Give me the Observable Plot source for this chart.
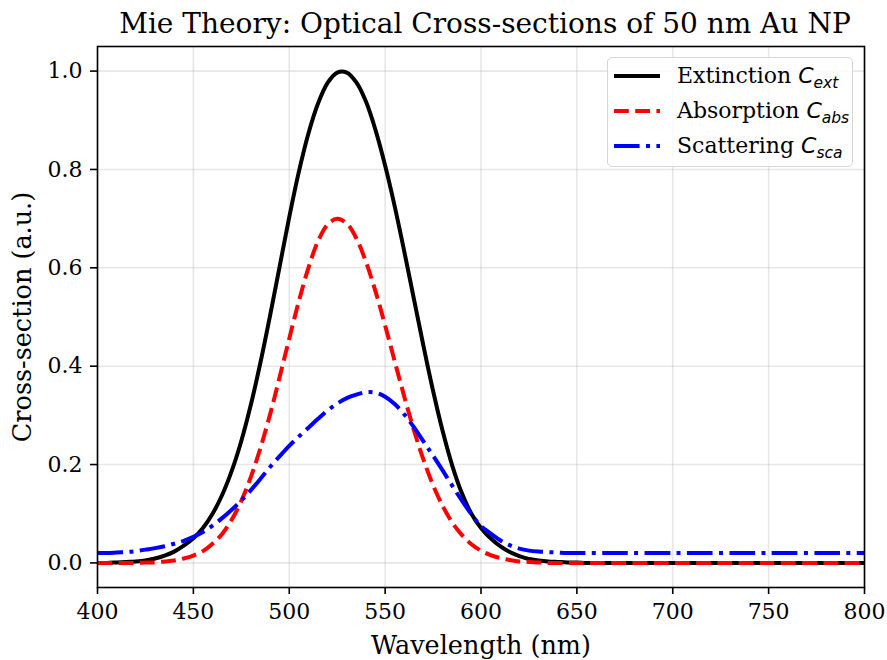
<!DOCTYPE html>
<html>
<head>
<meta charset="utf-8">
<script src="https://cdn.jsdelivr.net/npm/d3@7"></script>
<script src="https://cdn.jsdelivr.net/npm/@observablehq/plot@0.6"></script>
<style>
  html, body { margin: 0; padding: 0; background: #fff; }
  #wrap { position: relative; width: 887px; height: 660px; overflow: hidden; }
  .legend { position: absolute; left: 607px; top: 57px; width: 244px; height: 108px;
    border: 1.5px solid #d6d6d6; border-radius: 5px; background: rgba(255,255,255,0.8);
    font-family: "DejaVu Serif"; font-size: 22px; color: #000; }
  .row { position: absolute; left: 0; height: 30px; width: 100%; }
  .row svg { position: absolute; left: 6px; top: 0; }
  .row .lbl { position: absolute; left: 69px; top: 0; line-height: 30px; white-space: nowrap; }
  .m { font-family: "DejaVu Sans"; font-style: italic; }
  .m sub { font-size: 15.5px; vertical-align: -5px; line-height: 0; }
</style>
</head>
<body>
<div id="wrap"></div>
<script>
// ---- data ----
const wavelength = [400,405,410,415,420,425,430,435,440,445,450,455,460,465,470,475,480,485,490,495,
  500,505,510,515,520,525,530,535,540,545,550,555,560,565,570,575,580,585,590,595,
  600,605,610,615,620,625,630,635,640,645,650,655,660,700,750,800];
const extinction = [0.000,0.000,0.001,0.002,0.003,0.005,0.009,0.015,0.023,0.035,0.050,0.071,0.100,0.138,0.187,0.248,0.322,0.408,0.503,0.603,
  0.703,0.795,0.873,0.934,0.976,0.997,0.997,0.977,0.938,0.880,0.808,0.725,0.633,0.537,0.441,0.350,0.268,0.198,0.142,0.100,
  0.071,0.050,0.034,0.022,0.014,0.008,0.005,0.003,0.002,0.001,0.001,0.000,0.000,0.000,0.000,0.000];
const absorption = [0.000,0.000,0.000,0.000,0.000,0.001,0.001,0.003,0.005,0.009,0.015,0.024,0.039,0.059,0.088,0.126,0.175,0.234,0.302,0.378,
  0.456,0.532,0.600,0.654,0.688,0.700,0.690,0.660,0.612,0.552,0.483,0.410,0.338,0.270,0.210,0.158,0.116,0.082,0.057,0.038,
  0.025,0.016,0.010,0.006,0.003,0.002,0.001,0.000,0.000,0.000,0.000,0.000,0.000,0.000,0.000,0.000];
const scattering = [0.020,0.020,0.021,0.022,0.024,0.027,0.030,0.034,0.039,0.045,0.053,0.063,0.076,0.091,0.108,0.127,0.148,0.171,0.195,0.217,
  0.238,0.257,0.275,0.293,0.310,0.324,0.335,0.342,0.347,0.346,0.338,0.323,0.302,0.276,0.247,0.218,0.188,0.157,0.127,0.099,
  0.075,0.060,0.046,0.036,0.029,0.025,0.023,0.022,0.021,0.020,0.020,0.020,0.020,0.020,0.020,0.020];
const xTicks = [400,450,500,550,600,650,700,750,800];
const yTicks = [0.0,0.2,0.4,0.6,0.8,1.0];
const titleText = "Mie Theory: Optical Cross-sections of 50 nm Au NP";
const xLabel = "Wavelength (nm)";
const yLabel = "Cross-section (a.u.)";
const seriesNames = ["Extinction", "Absorption", "Scattering"];
const seriesSubs = ["ext", "abs", "sca"];
const seriesColors = ["black", "red", "blue"];
const seriesDash = [null, "14.8,6.4", "25.6,6.4,4,6.4"];
const seriesValues = [extinction, absorption, scattering];

const LW = 4;
const lineMarks = seriesValues.map((vals, k) =>
  Plot.line(wavelength, {
    x: d => d, y: (d, i) => vals[i],
    stroke: seriesColors[k], strokeWidth: LW,
    strokeDasharray: seriesDash[k] || undefined,
    strokeLinecap: "butt", strokeLinejoin: "round",
    curve: "catmull-rom"
  })
);

const chart = Plot.plot({
  width: 887, height: 660,
  marginLeft: 97, marginRight: 23, marginTop: 46, marginBottom: 73,
  style: { fontFamily: "DejaVu Serif", fontSize: "22px", color: "black", background: "white", overflow: "visible" },
  x: { domain: [400, 800], label: null },
  y: { domain: [-0.05, 1.05], label: null },
  marks: [
    Plot.gridX(xTicks, { stroke: "#b0b0b0", strokeOpacity: 0.3, strokeWidth: 1.6 }),
    Plot.gridY(yTicks, { stroke: "#b0b0b0", strokeOpacity: 0.3, strokeWidth: 1.6 }),
    ...lineMarks,
    Plot.frame({ stroke: "black", strokeWidth: 1.6 }),
    Plot.axisX(xTicks, { tickSize: 7, tickPadding: 9, fontSize: 22, strokeWidth: 1.6, label: null, tickFormat: d => String(d) }),
    Plot.axisY(yTicks, { tickSize: 7, tickPadding: 8, fontSize: 22, strokeWidth: 1.6, label: null, tickFormat: d3.format(".1f") }),
    Plot.text([titleText], { text: d => d, frameAnchor: "top", lineAnchor: "middle", textAnchor: "middle", dx: 4, dy: -22, fontSize: 28, fill: "black" }),
    Plot.text([xLabel], { text: d => d, frameAnchor: "bottom", lineAnchor: "middle", textAnchor: "middle", dy: 58, fontSize: 25.5, fill: "black" }),
    Plot.text([yLabel], { text: d => d, frameAnchor: "left", lineAnchor: "middle", textAnchor: "middle", dx: -75, rotate: -90, fontSize: 25.5, fill: "black" })
  ]
});
const wrap = document.getElementById("wrap");
wrap.appendChild(chart);

// legend
const legend = document.createElement("div");
legend.className = "legend";
const rowTops = [2.5, 37.5, 73];
seriesNames.forEach((name, k) => {
  const row = document.createElement("div");
  row.className = "row";
  row.style.top = rowTops[k] + "px";
  const dash = seriesDash[k] ? `stroke-dasharray="${seriesDash[k]}"` : "";
  row.innerHTML = `<svg width="48" height="30"><line x1="0" y1="15" x2="46" y2="15" stroke="${seriesColors[k]}" stroke-width="${LW}" ${dash} stroke-linecap="butt"/></svg>` +
    `<span class="lbl">${name} <span class="m">C<sub>${seriesSubs[k]}</sub></span></span>`;
  legend.appendChild(row);
});
wrap.appendChild(legend);
</script>
</body>
</html>
